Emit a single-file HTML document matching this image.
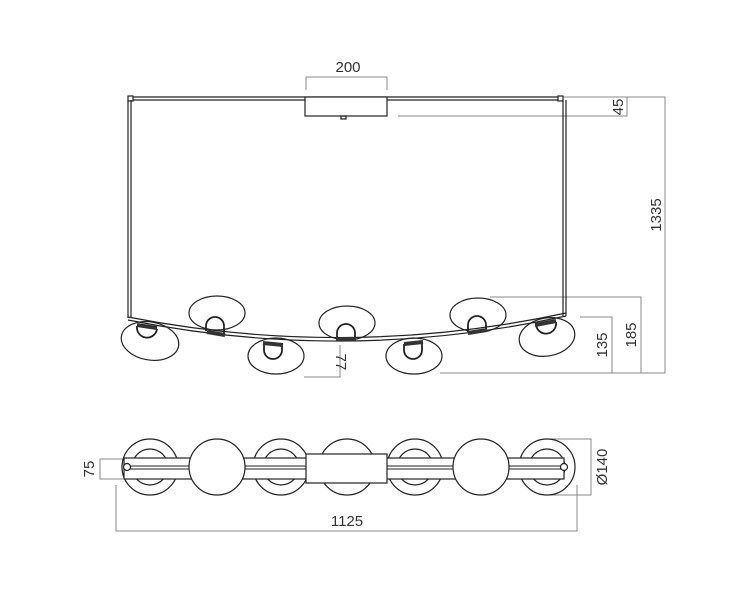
<!DOCTYPE html>
<html><head><meta charset="utf-8"><style>
html,body{margin:0;padding:0;background:#fff;}
svg{display:block;}
text{font-family:"Liberation Sans",sans-serif;font-size:15px;fill:#333;}
</style></head><body>
<svg width="746" height="592" viewBox="0 0 746 592">
<g fill="none" stroke="#888" stroke-width="1">
<path d="M306 90V77H387V90"/>
<path d="M398 97H627V116H398"/>
<path d="M568 97H665V373H440"/>
<path d="M490 297H641V373"/>
<path d="M580 317H612V373"/>
<path d="M340 345V377H304"/>
<path d="M123 459H100V479H123"/>
<path d="M116 485V531H577V485"/>
<path d="M548 439H591V495H548"/>
</g>
<g fill="#333">
<text x="348" y="72" text-anchor="middle">200</text>
<text transform="translate(623,107) rotate(-90)" text-anchor="middle">45</text>
<text transform="translate(661,215) rotate(-90)" text-anchor="middle">1335</text>
<text transform="translate(636,335) rotate(-90)" text-anchor="middle">185</text>
<text transform="translate(607,345) rotate(-90)" text-anchor="middle">135</text>
<text transform="translate(336,362) rotate(90)" text-anchor="middle">77</text>
<text transform="translate(94,469) rotate(-90)" text-anchor="middle">75</text>
<text x="347" y="526" text-anchor="middle">1125</text>
<text transform="translate(607,467) rotate(-90)" text-anchor="middle">Ø140</text>
</g>
<g fill="none" stroke="#222" stroke-width="1.2">
<path d="M130 97H562M130 100H562"/>
<rect x="305" y="97" width="82" height="19" fill="#fff"/>
<rect x="341" y="116" width="5" height="3"/>
<rect x="128" y="96" width="5" height="5" fill="#fff"/>
<rect x="558" y="96" width="5" height="5" fill="#fff"/>
<path d="M128 100V318M131 100V318M563 100V316M566 100V316"/>
<ellipse cx="150" cy="341" rx="29" ry="19" fill="#fff" transform="rotate(10 150 341)"/>
<ellipse cx="217" cy="313" rx="28" ry="17" fill="#fff"/>
<ellipse cx="276" cy="356" rx="28" ry="18" fill="#fff"/>
<ellipse cx="347" cy="323" rx="28" ry="17" fill="#fff"/>
<ellipse cx="414" cy="356" rx="28" ry="18" fill="#fff"/>
<ellipse cx="478" cy="315" rx="28" ry="17" fill="#fff"/>
<ellipse cx="547" cy="337" rx="28" ry="19" fill="#fff" transform="rotate(-10 547 337)"/>
<g stroke-width="1.8">
<path d="M137 326A10 10 0 0 0 157 329" />
<path d="M206 331V326A9 9 0 0 1 224 326V333"/>
<path d="M264 344V350A9 9 0 0 0 282 350V345"/>
<path d="M337 339V333A9 9 0 0 1 355 333V339"/>
<path d="M404 344V350A9 9 0 0 0 422 350V343"/>
<path d="M468 332V325A9 9 0 0 1 486 325V329"/>
<path d="M536 325A10 10 0 0 0 556 322"/>
</g>
<path d="M128 317Q347 360 566 313" stroke-width="1.2"/>
<path d="M128 320Q347 364 566 316" stroke-width="1.2"/>
<g stroke-width="4" stroke="#333">
<path d="M137 325L157 328M207 332L225 335M263 343L283 345M336 339L356 339M404 344L423 342M468 333L487 330M535 325L556 321"/>
</g>
<circle cx="150" cy="467" r="28"/><circle cx="150" cy="467" r="18"/>
<circle cx="281" cy="467" r="28"/><circle cx="281" cy="467" r="18"/>
<circle cx="415" cy="467" r="28"/><circle cx="415" cy="467" r="18"/>
<circle cx="547" cy="467" r="28"/><circle cx="547" cy="467" r="18"/>
<circle cx="347" cy="467" r="28"/>
<rect x="124" y="458" width="440" height="21" fill="#fff"/>
<path d="M126 466H563M126 469H563" stroke-width="1"/>
<circle cx="217" cy="467" r="28" fill="#fff"/>
<circle cx="481" cy="467" r="28" fill="#fff"/>
<rect x="306" y="454" width="81" height="29" fill="#fff"/>
<circle cx="127" cy="467" r="3.5" fill="#fff"/>
<circle cx="564" cy="467" r="3.5" fill="#fff"/>
</g>
</svg>
</body></html>
